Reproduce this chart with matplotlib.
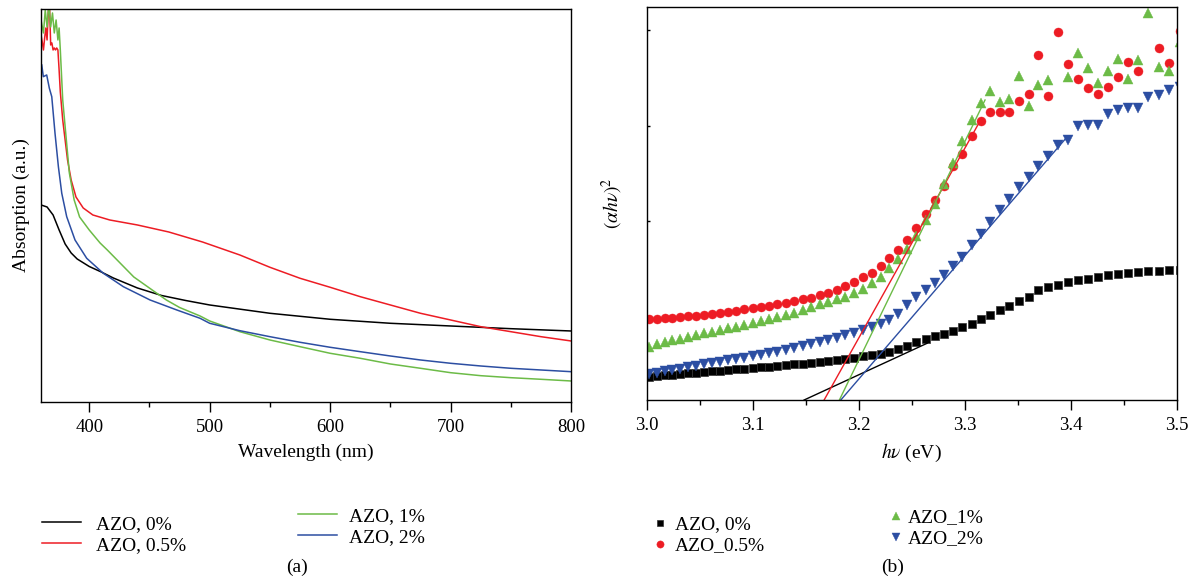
import numpy as np
import matplotlib
matplotlib.use('Agg')
import matplotlib.pyplot as plt

plt.rcParams['font.family'] = ['Liberation Serif', 'DejaVu Serif']
plt.rcParams['mathtext.fontset'] = 'stix'

# ---- (a) absorption spectra, arbitrary units ----
wl_0 = [360, 365, 370, 375, 380, 385, 390, 400, 410, 420, 440, 460, 480, 500,
        550, 600, 650, 700, 750, 800]
abs_0 = [1.97, 1.95, 1.87, 1.72, 1.58, 1.49, 1.43, 1.355, 1.30, 1.24, 1.14, 1.065,
         1.015, 0.97, 0.887, 0.827, 0.787, 0.76, 0.733, 0.71]

wl_05 = [360, 361, 362, 363, 364, 365, 366, 367, 368, 369, 370, 371, 372, 373, 374,
         375, 376, 378, 380, 382, 385, 389, 395, 403, 417, 440, 466, 494, 525,
         550, 575, 600, 625, 650, 675, 700, 725, 750, 775, 800]
abs_05 = [3.67, 3.60, 3.52, 3.64, 3.74, 3.62, 3.90, 3.99, 3.57, 3.59, 3.52, 3.54,
          3.52, 3.54, 3.52, 3.32, 3.10, 2.82, 2.62, 2.42, 2.22, 2.05, 1.94, 1.87,
          1.82, 1.77, 1.70, 1.60, 1.47, 1.347, 1.237, 1.147, 1.053, 0.97,
          0.887, 0.82, 0.753, 0.703, 0.653, 0.61]

wl_1 = [360, 362, 363.5, 365, 366.5, 368, 369.5, 371, 372.5, 374, 375, 376, 378,
        381, 383.5, 387.5, 392, 400, 409, 415, 437, 464, 475, 492, 500, 525, 550,
        575, 600, 625, 650, 675, 700, 725, 750, 775, 800]
abs_1 = [3.82, 3.69, 3.92, 3.75, 3.99, 3.75, 3.89, 3.69, 3.82, 3.62, 3.74, 3.52,
         3.02, 2.62, 2.29, 2.02, 1.85, 1.72, 1.59, 1.52, 1.25, 1.02, 0.945, 0.86,
         0.81, 0.703, 0.62, 0.553, 0.487, 0.437, 0.38, 0.337, 0.293, 0.263,
         0.243, 0.227, 0.21]

wl_2 = [360.6, 361.9, 364.7, 366.9, 368.9, 371.6, 374.4, 377.2, 381.3, 388.2,
        397.9, 411.7, 428.3, 450.5, 472.7, 492, 500, 525, 550, 575, 600, 625,
        650, 675, 700, 725, 750, 775, 800]
abs_2 = [3.37, 3.253, 3.27, 3.137, 3.053, 2.687, 2.353, 2.087, 1.853, 1.62, 1.437,
         1.287, 1.153, 1.02, 0.92, 0.837, 0.787, 0.713, 0.653, 0.597, 0.547, 0.503,
         0.46, 0.42, 0.387, 0.36, 0.337, 0.32, 0.303]

# ---- (b) Tauc plot, arbitrary units ----
wavelength_nm = np.arange(413, 353, -1)
photon_energy = 1240.0 / wavelength_nm

tauc_0 = [0.233, 0.24, 0.247, 0.253, 0.26, 0.267, 0.273, 0.28, 0.287, 0.293,
          0.30, 0.307, 0.313, 0.32, 0.327, 0.333, 0.34, 0.347, 0.357, 0.363,
          0.373, 0.38, 0.39, 0.40, 0.41, 0.423, 0.437, 0.45, 0.463, 0.48,
          0.51, 0.545, 0.58, 0.607, 0.64, 0.66, 0.693, 0.733, 0.76, 0.807,
          0.85, 0.90, 0.94, 0.993, 1.033, 1.10, 1.13, 1.155, 1.18, 1.197,
          1.215, 1.233, 1.25, 1.26, 1.273, 1.283, 1.287, 1.293, 1.30, 1.305]
tauc_05 = [0.807, 0.813, 0.82, 0.823, 0.83, 0.837, 0.843, 0.85, 0.86, 0.873,
           0.883, 0.893, 0.907, 0.917, 0.927, 0.94, 0.957, 0.973, 0.987, 1.007,
           1.023, 1.047, 1.073, 1.10, 1.14, 1.177, 1.227, 1.273, 1.34, 1.417,
           1.50, 1.595, 1.717, 1.86, 2.00, 2.14, 2.335, 2.46, 2.64, 2.785,
           2.875, 2.875, 2.875, 2.987, 3.057, 3.45, 3.043, 3.677, 3.357, 3.213,
           3.123, 3.057, 3.133, 3.227, 3.38, 3.29, np.nan, 3.523, 3.367, 3.693]
tauc_1 = [0.533, 0.56, 0.583, 0.60, 0.613, 0.633, 0.65, 0.667, 0.683, 0.70,
          0.717, 0.733, 0.75, 0.773, 0.79, 0.81, 0.833, 0.85, 0.873, 0.90,
          0.927, 0.957, 0.983, 1.007, 1.033, 1.075, 1.11, 1.167, 1.233, 1.317,
          1.407, 1.51, 1.64, 1.80, 1.963, 2.163, 2.373, 2.59, 2.797, 2.967,
          3.093, 2.983, 3.01, 3.237, 2.94, 3.145, 3.203, np.nan, 3.233, 3.467,
          3.323, 3.173, 3.293, 3.413, 3.213, 3.397, 3.873, 3.333, 3.29, 3.583]
tauc_2 = [0.26, 0.275, 0.29, 0.305, 0.315, 0.33, 0.343, 0.357, 0.37, 0.383,
          0.397, 0.41, 0.423, 0.437, 0.453, 0.47, 0.485, 0.50, 0.52, 0.54,
          0.56, 0.58, 0.60, 0.625, 0.65, 0.675, 0.70, 0.73, 0.765, 0.805,
          0.86, 0.95, 1.027, 1.10, 1.167, 1.25, 1.34, 1.433, 1.55, 1.66,
          1.777, 1.90, 2.007, 2.127, 2.227, 2.34, 2.44, 2.547, 2.595, 2.735,
          2.747, 2.747, 2.86, 2.90, 2.923, 2.923, 3.033, 3.05, 3.10, 3.127]

# linear extrapolation segments (start, end)
fit_0_x, fit_0_y = [3.1486, 3.2646], [0.0, 0.567]
fit_05_x, fit_05_y = [3.1675, 3.3146], [0.0, 2.79]
fit_1_x, fit_1_y = [3.1819, 3.3193], [0.0, 3.00]
fit_2_x, fit_2_y = [3.1832, 3.3958], [0.0, 2.62]

c_black = '#000000'
c_red = '#ed1c24'
c_green = '#6cbb47'
c_blue = '#2c4ea2'

fig = plt.figure(figsize=(12, 5.82), dpi=100)
ax1 = fig.add_axes([0.0342, 0.3093, 0.4417, 0.6753])
ax2 = fig.add_axes([0.5388, 0.3127, 0.4417, 0.6753])

# --- panel (a)
l0, = ax1.plot(wl_0, abs_0, color=c_black, lw=1.1)
l05, = ax1.plot(wl_05, abs_05, color=c_red, lw=1.1)
l1, = ax1.plot(wl_1, abs_1, color=c_green, lw=1.1)
l2, = ax1.plot(wl_2, abs_2, color=c_blue, lw=1.1)
ax1.set_xlim(360, 800)
ax1.set_ylim(0, 3.93)
ax1.set_xticks([400, 500, 600, 700, 800])
ax1.set_xticks([450, 550, 650, 750], minor=True)
ax1.set_yticks([])
ax1.tick_params(axis='x', which='major', direction='out', length=7, width=1,
                labelsize=13.5, pad=5)
ax1.tick_params(axis='x', which='minor', direction='out', length=3.5, width=1)
ax1.set_xlabel('Wavelength (nm)', fontsize=14, labelpad=6)
ax1.set_ylabel('Absorption (a.u.)', fontsize=14, labelpad=8)

# --- panel (b)
m0, = ax2.plot(photon_energy, tauc_0, ls='none', marker='s', ms=6,
               color=c_black, mec='#333333', mew=0.5)
m05, = ax2.plot(photon_energy, tauc_05, ls='none', marker='o', ms=6.5,
                color=c_red, mec=c_red, mew=0.3)
m1, = ax2.plot(photon_energy, tauc_1, ls='none', marker='^', ms=7.5,
               color=c_green, mec=c_green, mew=0.3)
m2, = ax2.plot(photon_energy, tauc_2, ls='none', marker='v', ms=7.5,
               color=c_blue, mec=c_blue, mew=0.3)
ax2.plot(fit_0_x, fit_0_y, color=c_black, lw=1.0)
ax2.plot(fit_05_x, fit_05_y, color=c_red, lw=1.0)
ax2.plot(fit_1_x, fit_1_y, color=c_green, lw=1.0)
ax2.plot(fit_2_x, fit_2_y, color=c_blue, lw=1.0)
ax2.set_xlim(3.0, 3.5)
ax2.set_ylim(0, 3.93)
ax2.set_xticks([3.0, 3.1, 3.2, 3.3, 3.4, 3.5])
ax2.set_xticklabels(['3.0', '3.1', '3.2', '3.3', '3.4', '3.5'])
ax2.set_xticks([3.05, 3.15, 3.25, 3.35, 3.45], minor=True)
ax2.set_yticks([0.84, 1.79, 2.74, 3.70])
ax2.set_yticklabels([])
ax2.tick_params(axis='x', which='major', direction='out', length=7, width=1,
                labelsize=13.5, pad=5)
ax2.tick_params(axis='x', which='minor', direction='out', length=3.5, width=1)
ax2.tick_params(axis='y', direction='in', length=2.5, width=1)
ax2.set_xlabel(r'$h\nu$ (eV)', fontsize=14, labelpad=6)
ax2.set_ylabel(r'$(\alpha h\nu)^2$', fontsize=14, labelpad=12)

for ax in (ax1, ax2):
    for sp in ax.spines.values():
        sp.set_linewidth(1.0)

# --- legends, two columns each, second column slightly higher
leg_kw = dict(frameon=False, fontsize=14, loc='upper left', borderpad=0,
              borderaxespad=0, labelspacing=0.17)
fig.legend([l0, l05], ['AZO, 0%', 'AZO, 0.5%'], bbox_to_anchor=(0.035, 0.114),
           handlelength=2.0, handletextpad=0.8, **leg_kw)
fig.legend([l1, l2], ['AZO, 1%', 'AZO, 2%'], bbox_to_anchor=(0.2483, 0.128),
           handlelength=2.0, handletextpad=0.6, **leg_kw)
fig.legend([m0, m05], ['AZO, 0%', 'AZO_0.5%'], bbox_to_anchor=(0.5422, 0.1135),
           handlelength=1.0, handletextpad=0.25, numpoints=1, markerscale=0.8,
           **leg_kw)
fig.legend([m1, m2], ['AZO_1%', 'AZO_2%'], bbox_to_anchor=(0.7388, 0.1255),
           handlelength=1.0, handletextpad=0.1, numpoints=1, markerscale=0.8,
           **leg_kw)

fig.text(297 / 1200, 1 - 567 / 582, '(a)', fontsize=14, ha='center', va='center')
fig.text(893 / 1200, 1 - 567 / 582, '(b)', fontsize=14, ha='center', va='center')

fig.savefig('out.png', dpi=100)
